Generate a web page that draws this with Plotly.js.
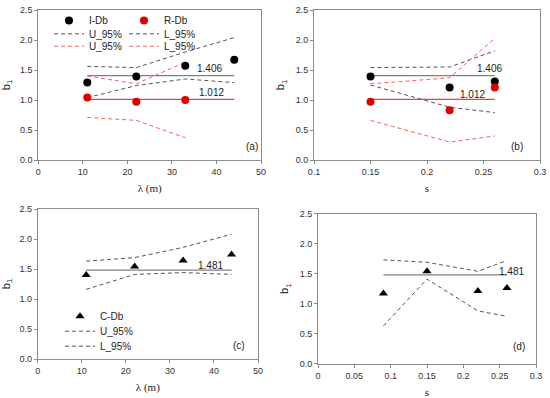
<!DOCTYPE html>
<html><head><meta charset="utf-8">
<script src="https://cdn.plot.ly/plotly-3.0.1.min.js"></script>
<style>html,body{margin:0;padding:0;background:#fff}#c{width:550px;height:398px}</style>
</head><body><div id="c"></div>
<script>
// Panel (a): lambda (m)
const aX = [11, 22, 33, 44];
const aIDb = [1.29, 1.39, 1.57, 1.67];
const aRX = [11, 22, 33];
const aRDb = [1.04, 0.97, 1.00];
const aIU = [1.56, 1.54, 1.80, 2.04];
const aIL = [1.04, 1.24, 1.35, 1.29];
const aRU = [1.40, 1.27, 1.63];
const aRL = [0.71, 0.66, 0.37];
// Panel (b): s
const bX = [0.15, 0.22, 0.26];
const bIDb = [1.39, 1.21, 1.31];
const bRDb = [0.97, 0.83, 1.21];
const bIU = [1.54, 1.55, 1.82];
const bIL = [1.25, 0.88, 0.79];
const bRU = [1.27, 1.37, 2.03];
const bRL = [0.66, 0.30, 0.40];
// Panel (c): lambda (m)
const cX = [11, 22, 33, 44];
const cDb = [1.40, 1.54, 1.64, 1.74];
const cU = [1.63, 1.69, 1.86, 2.08];
const cL = [1.16, 1.41, 1.44, 1.41];
// Panel (d): s
const dX = [0.09, 0.15, 0.22, 0.26];
const dDb = [1.17, 1.54, 1.21, 1.26];
const dU = [1.73, 1.69, 1.54, 1.72];
const dL = [0.63, 1.41, 0.88, 0.79];
// Mean values
const meanI = 1.406, meanR = 1.012, meanC = 1.481;
const meanLabels = ['1.406', '1.012', '1.481'];
const panelLabels = ['(a)', '(b)', '(c)', '(d)'];

const BLK = '#000000', RED = '#e00000', DGR = '#555555', LRED = '#ff5a5a', MGR = '#808080', MRED = '#ff3b3b';
const DASH = '4px,3px';

function pts(x, y, name, color, sym, xa, ya, legend) {
  return {x: x, y: y, type: 'scatter', mode: 'markers', name: name, xaxis: xa, yaxis: ya,
    marker: {color: color, size: 8, symbol: sym}, showlegend: !!legend, legend: legend || 'legend'};
}
function dline(x, y, name, color, xa, ya, legend) {
  return {x: x, y: y, type: 'scatter', mode: 'lines', name: name, xaxis: xa, yaxis: ya,
    line: {color: color, width: 1, dash: DASH}, showlegend: !!legend, legend: legend || 'legend'};
}
function mline(x, v, color, xa, ya) {
  return {x: [x[0], x[x.length - 1]], y: [v, v], type: 'scatter', mode: 'lines', xaxis: xa, yaxis: ya,
    line: {color: color, width: 1.2}, showlegend: false, hoverinfo: 'skip'};
}

const traces = [
  // (a)
  mline(aX, meanI, MGR, 'x', 'y'),
  mline(aX, meanR, MRED, 'x', 'y'),
  dline(aX, aIU, 'U_95%', DGR, 'x', 'y', 'legend3'),
  dline(aX, aIL, 'L_95%', DGR, 'x', 'y', 'legend3'),
  dline(aRX, aRU, 'U_95%', LRED, 'x', 'y', 'legend4'),
  dline(aRX, aRL, 'L_95%', LRED, 'x', 'y', 'legend4'),
  pts(aX, aIDb, 'I-Db', BLK, 'circle', 'x', 'y', 'legend'),
  pts(aRX, aRDb, 'R-Db', RED, 'circle', 'x', 'y', 'legend'),
  // (b)
  mline(bX, meanI, MGR, 'x2', 'y2'),
  mline(bX, meanR, MRED, 'x2', 'y2'),
  dline(bX, bIU, 'U_95%', DGR, 'x2', 'y2'),
  dline(bX, bIL, 'L_95%', DGR, 'x2', 'y2'),
  dline(bX, bRU, 'U_95%', LRED, 'x2', 'y2'),
  dline(bX, bRL, 'L_95%', LRED, 'x2', 'y2'),
  pts(bX, bIDb, 'I-Db', BLK, 'circle', 'x2', 'y2'),
  pts(bX, bRDb, 'R-Db', RED, 'circle', 'x2', 'y2'),
  // (c)
  mline(cX, meanC, MGR, 'x3', 'y3'),
  pts(cX, cDb, 'C-Db', BLK, 'triangle-up', 'x3', 'y3', 'legend2'),
  dline(cX, cU, 'U_95%', DGR, 'x3', 'y3', 'legend5'),
  dline(cX, cL, 'L_95%', DGR, 'x3', 'y3', 'legend6'),
  // (d)
  mline(dX, meanC, MGR, 'x4', 'y4'),
  dline(dX, dU, 'U_95%', DGR, 'x4', 'y4'),
  dline(dX, dL, 'L_95%', DGR, 'x4', 'y4'),
  pts(dX, dDb, 'C-Db', BLK, 'triangle-up', 'x4', 'y4')
];

const W = 550, H = 398;
const px = v => v / W, py = v => (H - v) / H;
const FONT = 'Liberation Sans, Arial, sans-serif';
const tickFont = {family: FONT, size: 9, color: '#333'};
function xax(dom, range, dtick, title) {
  return {domain: [px(dom[0]), px(dom[1])], range: range, dtick: dtick, tick0: 0,
    showline: true, mirror: true, linecolor: '#8c8c8c', linewidth: 1,
    ticks: 'outside', ticklen: 3, tickcolor: '#8c8c8c', showgrid: false, zeroline: false,
    tickfont: tickFont, fixedrange: true,
    title: {text: title, font: {family: 'Liberation Serif, DejaVu Serif, serif', size: 11, color: '#222'}, standoff: 8}};
}
function yax(dom) {
  return {domain: [py(dom[1]), py(dom[0])], range: [0, 2.5], dtick: 0.5, tickformat: '.1f',
    showline: true, mirror: true, linecolor: '#8c8c8c', linewidth: 1,
    ticks: 'outside', ticklen: 3, tickcolor: '#8c8c8c', showgrid: false, zeroline: false,
    tickfont: tickFont, fixedrange: true,
    title: {text: 'b<sub>1</sub>', font: {family: FONT, size: 11, color: '#222'}, standoff: 8}};
}
function leg(xPx, topPx, horiz) {
  const o = {x: px(xPx), y: py(topPx), xanchor: 'left', yanchor: 'top', bgcolor: 'rgba(0,0,0,0)',
    font: {family: FONT, size: 10, color: '#222'}, itemwidth: 30, tracegroupgap: 0, traceorder: 'normal'};
  if (horiz) { o.orientation = 'h'; o.entrywidth = 30; o.entrywidthmode = 'pixels'; }
  return o;
}
function ann(xref, yref, x, y, text) {
  return {xref: xref, yref: yref, x: x, y: y, text: text, showarrow: false, font: {size: 10, color: '#222', family: FONT}};
}

const layout = {
  width: W, height: H, margin: {l: 0, r: 0, t: 0, b: 0}, paper_bgcolor: '#fff', plot_bgcolor: '#fff',
  xaxis: Object.assign(xax([38.3, 261], [0, 50], 10, 'λ (m)'), {anchor: 'y'}),
  yaxis: Object.assign(yax([10, 160]), {anchor: 'x'}),
  xaxis2: Object.assign(xax([314, 540], [0.1, 0.3], 0.05, 's'), {anchor: 'y2'}),
  yaxis2: Object.assign(yax([10, 160]), {anchor: 'x2'}),
  xaxis3: Object.assign(xax([37.7, 258], [0, 50], 10, 'λ (m)'), {anchor: 'y3'}),
  yaxis3: Object.assign(yax([209, 359]), {anchor: 'x3'}),
  xaxis4: Object.assign(xax([318, 536], [0, 0.3], 0.05, 's'), {anchor: 'y4'}),
  yaxis4: Object.assign(yax([213.7, 363.7]), {anchor: 'x4'}),
  legend: leg(49, 6, true),
  legend3: leg(49, 19.3, true),
  legend4: leg(49, 31.7, true),
  legend2: leg(60, 301.7, false),
  legend5: leg(60, 316.7, false),
  legend6: leg(60, 331.7, false),
  showlegend: true,
  annotations: [
    ann('x', 'y', 38.5, 1.53, meanLabels[0]),
    ann('x', 'y', 38.8, 1.13, meanLabels[1]),
    ann('x', 'y', 48.0, 0.23, panelLabels[0]),
    ann('x2', 'y2', 0.2557, 1.53, meanLabels[0]),
    ann('x2', 'y2', 0.240, 1.09, meanLabels[1]),
    ann('x2', 'y2', 0.280, 0.23, panelLabels[1]),
    ann('x3', 'y3', 39.3, 1.56, meanLabels[2]),
    ann('x3', 'y3', 45.7, 0.22, panelLabels[2]),
    ann('x4', 'y4', 0.2656, 1.53, meanLabels[2]),
    ann('x4', 'y4', 0.276, 0.29, panelLabels[3])
  ]
};

Plotly.newPlot('c', traces, layout, {staticPlot: true, displayModeBar: false});
</script></body></html>
